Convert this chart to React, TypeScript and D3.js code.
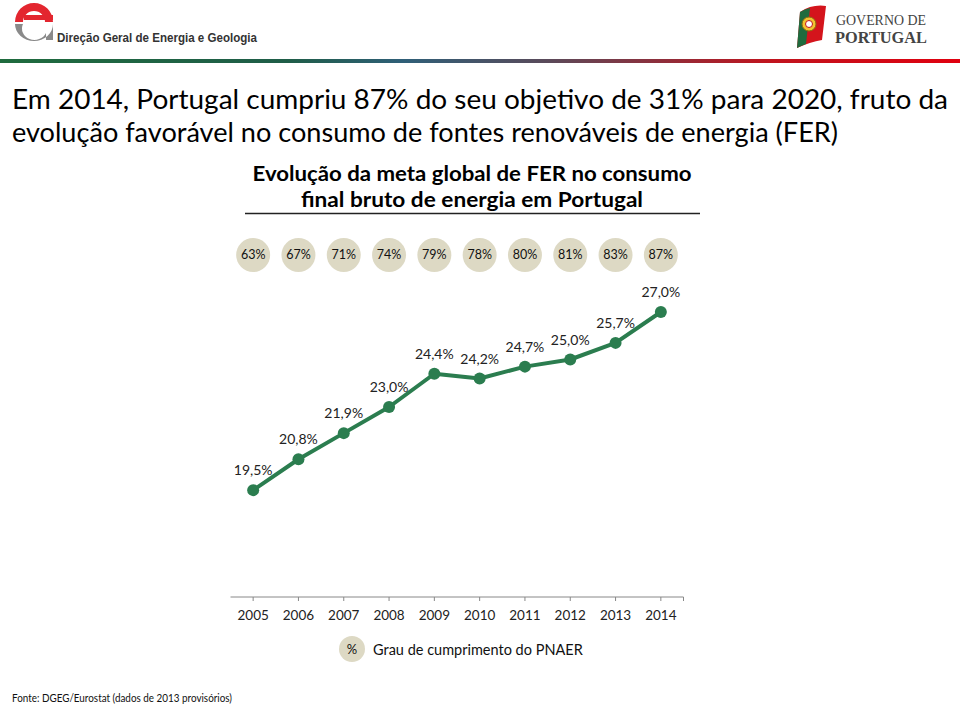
import React from 'react';
import * as d3 from 'd3';

const years = ['2005', '2006', '2007', '2008', '2009', '2010', '2011', '2012', '2013', '2014'];
const ferShare = [19.5, 20.8, 21.9, 23.0, 24.4, 24.2, 24.7, 25.0, 25.7, 27.0];
const compliance = [63, 67, 71, 74, 79, 78, 80, 81, 83, 87];

const titleLines = [
  'Em 2014, Portugal cumpriu 87% do seu objetivo de 31% para 2020, fruto da',
  'evolução favorável no consumo de fontes renováveis de energia (FER)',
];
const titleWidths = [936, 826];
const subtitleLines = [
  'Evolução da meta global de FER no consumo',
  'final bruto de energia em Portugal',
];
const subtitleWidths = [439, 342];
const legendLabel = 'Grau de cumprimento do PNAER';
const sourceLabel = 'Fonte: DGEG/Eurostat (dados de 2013 provisórios)';

const W = 960;
const H = 707;
const FONT = 'Lato, "Open Sans", sans-serif';
const GREEN = '#2b7d4f';
const TAN = '#ddd9c4';

const fmt = (v: number) => d3.format('.1f')(v).replace('.', ',') + '%';

export default function App() {
  const x = d3.scaleBand<string>().domain(years).range([230.5, 683.5]);
  const cx = (yr: string) => (x(yr) as number) + x.bandwidth() / 2;
  const y = d3.scaleLinear().domain([15, 27]).range([597, 312]);
  const line = d3
    .line<number>()
    .x((_, i) => cx(years[i]))
    .y((d) => y(d));

  return (
    <svg
      width={W}
      height={H}
      style={{ position: 'absolute', left: 0, top: 0, background: '#fff' }}
      fontFamily={FONT}
    >
      <defs>
        <linearGradient id="hdr" x1="0" x2="1" y1="0" y2="0">
          <stop offset="0" stopColor="#1f6b3e" />
          <stop offset="0.3" stopColor="#1f5d48" />
          <stop offset="0.42" stopColor="#2f5f78" />
          <stop offset="0.57" stopColor="#5a4a5a" />
          <stop offset="0.8" stopColor="#c0141e" />
          <stop offset="1" stopColor="#e0000f" />
        </linearGradient>
      </defs>

      {/* DGEG logo */}
      <g>
        <path d="M15,22 A19,19 0 0 1 53,22 L45,22 A11,11 0 0 0 23,22 Z" fill="#e3262f" />
        <rect x={24} y={15} width={29} height={5} fill="#e3262f" />
        <path d="M15,24 A19,17 0 0 0 53,24 L53,40 L46,40 L46,33 A11,10 0 0 1 23,24 Z" fill="#8a8a8a" />
        <text x={57} y={42} fontFamily="Liberation Sans, Arial, sans-serif" fontWeight="bold" fontSize={13} fill="#333" textLength={200} lengthAdjust="spacingAndGlyphs">
          Direção Geral de Energia e Geologia
        </text>
      </g>

      {/* Governo de Portugal logo */}
      <g>
        <path d="M800,12 Q812,4 826,6 L822,40 Q810,42 797,48 Z" fill="#d4141c" />
        <path d="M800,12 Q805,9 810,8 L806,44 Q801,46 797,48 Z" fill="#1f6b3e" />
        <circle cx={809} cy={24} r={7} fill="#f2c230" stroke="#8a6a10" strokeWidth={1} />
        <circle cx={809} cy={24} r={3.5} fill="#fff" stroke="#c01018" strokeWidth={1} />
        <text x={836} y={25} fontFamily="Liberation Serif, serif" fontSize={14} fill="#444" textLength={90} lengthAdjust="spacingAndGlyphs">
          GOVERNO DE
        </text>
        <text x={835} y={43} fontFamily="Liberation Serif, serif" fontWeight="bold" fontSize={17} fill="#444" textLength={92} lengthAdjust="spacingAndGlyphs">
          PORTUGAL
        </text>
      </g>

      <rect x={0} y={59} width={W} height={4} fill="url(#hdr)" />

      {/* Title */}
      {titleLines.map((t, i) => (
        <text key={t} x={12} y={109 + i * 33} fontSize={26} fill="#000" textLength={titleWidths[i]} lengthAdjust="spacingAndGlyphs">
          {t}
        </text>
      ))}

      {/* Subtitle */}
      {subtitleLines.map((t, i) => (
        <text key={t} x={472} y={181 + i * 26} fontSize={20} fontWeight="bold" textAnchor="middle" fill="#000" textLength={subtitleWidths[i]} lengthAdjust="spacingAndGlyphs">
          {t}
        </text>
      ))}
      <line x1={245} x2={700} y1={213.5} y2={213.5} stroke="#222" strokeWidth={1.5} />

      {/* Compliance circles */}
      {compliance.map((c, i) => (
        <g key={years[i]} transform={`translate(${cx(years[i])},255)`}>
          <circle r={17} fill={TAN} />
          <text dy="0.35em" textAnchor="middle" fontSize={12.5} fill="#111">
            {c}%
          </text>
        </g>
      ))}

      {/* Axis */}
      <line x1={230.5} x2={683.5} y1={597} y2={597} stroke="#888" strokeWidth={1} />
      {[...years.map(cx), 683.5].map((tx, i) => (
        <line key={i} x1={tx} x2={tx} y1={597} y2={601} stroke="#888" strokeWidth={1} />
      ))}
      {years.map((yr) => (
        <text key={yr} x={cx(yr)} y={620} textAnchor="middle" fontSize={13.5} fill="#222">
          {yr}
        </text>
      ))}

      {/* Line */}
      <path d={line(ferShare) as string} fill="none" stroke={GREEN} strokeWidth={4} strokeLinejoin="round" />
      {ferShare.map((v, i) => (
        <circle key={years[i]} cx={cx(years[i])} cy={y(v)} r={6} fill={GREEN} />
      ))}
      {ferShare.map((v, i) => (
        <text key={'l' + years[i]} x={cx(years[i])} y={y(v) - 15} textAnchor="middle" fontSize={14} fill="#222">
          {fmt(v)}
        </text>
      ))}

      {/* Legend */}
      <circle cx={352} cy={649} r={13} fill={TAN} />
      <text x={352} y={649} dy="0.35em" textAnchor="middle" fontSize={13} fill="#111">
        %
      </text>
      <text x={373} y={655} fontSize={14.5} fill="#111">
        {legendLabel}
      </text>

      {/* Source */}
      <text x={12} y={702} fontSize={11} fill="#111" textLength={220} lengthAdjust="spacingAndGlyphs">
        {sourceLabel}
      </text>
    </svg>
  );
}
